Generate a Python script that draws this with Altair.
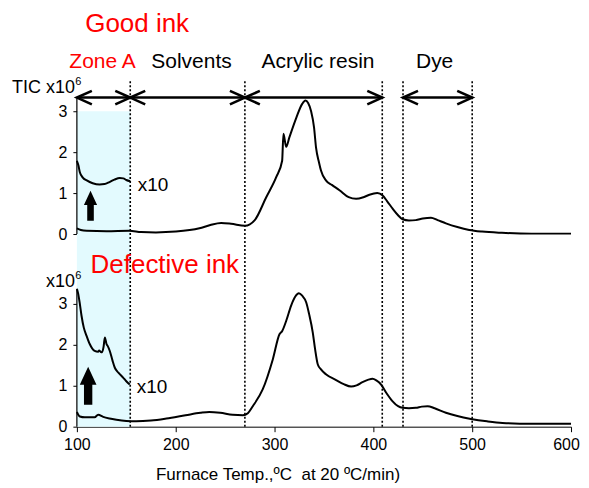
import altair as alt
import pandas as pd

# ---------------- data ----------------
# Good ink (upper panel), TIC x10^6
good_main_x = [100, 104, 110, 130, 153, 165, 180, 200, 224, 235, 246, 256, 270, 280, 291.6, 301.7,
               307.7, 309, 311.8, 315, 322, 328, 331.3, 334, 337, 340, 342, 345, 347, 352, 358,
               365.7, 375, 382.5, 390, 396, 404, 409.4, 414, 419.5, 425, 429.6, 436, 443, 450,
               458.3, 465, 473.4, 485, 497, 510, 530, 560, 600]
good_main_y = [0.14, 0.10, 0.08, 0.07, 0.08, 0.05, 0.04, 0.06, 0.14, 0.22, 0.27, 0.25, 0.20, 0.34, 0.90, 1.39,
               1.79, 2.45, 2.13, 2.36, 2.84, 3.18, 3.26, 3.20, 3.00, 2.60, 2.11, 1.75, 1.55, 1.31, 1.20,
               1.07, 0.90, 0.86, 0.90, 0.96, 1.00, 0.94, 0.80, 0.62, 0.46, 0.36, 0.33, 0.34, 0.38,
               0.40, 0.34, 0.26, 0.17, 0.10, 0.06, 0.03, 0.01, 0.01]
good_x10_x = [100, 101.5, 103, 106, 110, 116, 123, 128, 133, 138, 143.4, 147, 150, 154]
good_x10_y = [1.79, 1.68, 1.51, 1.38, 1.31, 1.24, 1.21, 1.22, 1.27, 1.33, 1.37, 1.36, 1.32, 1.29]

# Defective ink (lower panel)
bad_main_x = [100, 103, 108, 113, 118, 121.5, 126.6, 133, 140, 150, 160, 175, 190.6, 210, 225, 234, 245,
              257.6, 268, 273, 278, 288, 298.3, 305, 307.8, 312, 316.8, 321, 324.6, 328, 332, 335,
              338.7, 341, 343.8, 347, 352, 362.3, 370, 377.5, 383, 389, 395, 399.3, 403, 407.8,
              413, 419.5, 425, 429.6, 436, 443, 449, 454.9, 462, 473.4, 485, 498.7, 515, 530.6,
              560, 600]
bad_main_y = [0.36, 0.25, 0.23, 0.23, 0.23, 0.29, 0.24, 0.20, 0.17, 0.14, 0.13, 0.15, 0.20, 0.28, 0.34, 0.36, 0.34,
              0.29, 0.28, 0.33, 0.50, 0.91, 1.65, 2.26, 2.34, 2.60, 2.96, 3.18, 3.26, 3.20, 3.04, 2.75,
              2.30, 1.90, 1.52, 1.40, 1.28, 1.14, 1.04, 0.98, 1.01, 1.09, 1.15, 1.17, 1.13, 1.03,
              0.83, 0.62, 0.50, 0.46, 0.45, 0.46, 0.49, 0.50, 0.45, 0.34, 0.26, 0.19, 0.13, 0.09,
              0.07, 0.07]
bad_x10_x = [100, 101.3, 103, 104.7, 107, 109.8, 113, 118, 121.5, 122.5, 124, 125.5, 127, 128.3, 130,
             131, 133.3, 136, 138.4, 142, 146.8, 150, 153.5]
bad_x10_y = [3.37, 3.25, 3.00, 2.71, 2.42, 2.22, 2.02, 1.85, 1.83, 1.86, 1.83, 1.82, 1.95, 2.18, 2.02,
             1.98, 1.85, 1.62, 1.44, 1.32, 1.20, 1.11, 1.03]

# zones (temperature ranges)
zone_names = ["Zone A", "Solvents", "Acrylic resin", "Dye"]
zone_start = [100, 154, 270, 430]
zone_end = [154, 270, 409, 500]
zone_label_x = [126, 216, 344, 462]
zone_colors = ["#ff0000", "#000000", "#000000", "#000000"]
boundaries = [154, 270, 409, 430, 500]

y_ticks = [0, 1, 2, 3]
x_ticks = [100, 200, 300, 400, 500, 600]

OFFSET = 4.707          # baseline of the upper panel on the shared y scale
Y_MAX = 10.2195
FONT = "Liberation Sans"

# ---------------- tables ----------------
lines = pd.concat([
    pd.DataFrame({"x": good_main_x, "y": [v + OFFSET for v in good_main_y], "s": "good_main"}),
    pd.DataFrame({"x": good_x10_x, "y": [v + OFFSET for v in good_x10_y], "s": "good_x10"}),
    pd.DataFrame({"x": bad_main_x, "y": bad_main_y, "s": "bad_main"}),
    pd.DataFrame({"x": bad_x10_x, "y": bad_x10_y, "s": "bad_x10"}),
], ignore_index=True)
lines["i"] = range(len(lines))

xs = alt.Scale(domain=[100, 600], nice=False, zero=False)
ys = alt.Scale(domain=[0, Y_MAX], nice=False, zero=False)

y_axis = alt.Axis(values=y_ticks + [v + OFFSET for v in y_ticks],
                  labelExpr=f"datum.value > 4 ? format(datum.value - {OFFSET}, '.0f') : format(datum.value, '.0f')",
                  domain=False, grid=False, tickSize=4, tickColor="black", labelPadding=6,
                  labelFont=FONT, labelFontSize=16, labelColor="black", title=None, labelFlush=False)
x_axis = alt.Axis(values=x_ticks, grid=False, tickSize=5, tickColor="black", domainColor="black",
                  labelPadding=5, labelFont=FONT, labelFontSize=16, labelColor="black", labelFlush=False,
                  labelOffset={"condition": {"test": "datum.value == 600", "value": -5}, "value": 0},
                  title="Furnace Temp.,ºC\u00a0 at 20 ºC/min)", titleFont=FONT, titleFontSize=17,
                  titleFontWeight="normal", titleColor="black", titleX=201, titleY=48,
                  titleBaseline="middle", titleAlign="center", format="d")

shade = alt.Chart(pd.DataFrame({"x": [zone_start[0]], "x2": [zone_end[0]], "y": [0], "y2": [OFFSET + 3.0]})).mark_rect(
    color="#e3fafe").encode(
    x=alt.X("x:Q", scale=xs, axis=x_axis), x2="x2:Q",
    y=alt.Y("y:Q", scale=ys, axis=y_axis), y2="y2:Q")

dotted = alt.Chart(pd.DataFrame({"x": boundaries})).transform_calculate(y0="0", y1="8.49").mark_rule(
    color="black", strokeWidth=1.6, strokeDash=[2, 2]).encode(
    x=alt.X("x:Q", scale=xs), y=alt.Y("y0:Q", scale=ys), y2="y1:Q")

axis_lines = alt.Chart(pd.DataFrame({"x": [100, 100], "y": [0, OFFSET], "y2": [3.34, OFFSET + 3.32]})).mark_rule(
    color="black", strokeWidth=1.2).encode(
    x=alt.X("x:Q", scale=xs), y=alt.Y("y:Q", scale=ys), y2="y2:Q")

curves = alt.Chart(lines).mark_line(color="black", strokeWidth=2, interpolate="monotone").encode(
    x=alt.X("x:Q", scale=xs), y=alt.Y("y:Q", scale=ys), detail="s:N", order="i:Q")

arr = pd.DataFrame({"x": zone_start, "x2": zone_end})
arr["y"] = 8.04
shafts = alt.Chart(arr).mark_rule(color="black", strokeWidth=2.5).encode(
    x=alt.X("x:Q", scale=xs), x2="x2:Q", y=alt.Y("y:Q", scale=ys))
head_l = alt.Chart(arr).mark_point(shape="M2,-0.9L0,0L2,0.9", filled=False, size=225, strokeWidth=2.6,
                                   color="black", opacity=1).encode(
    x=alt.X("x:Q", scale=xs), y=alt.Y("y:Q", scale=ys))
head_r = alt.Chart(arr).mark_point(shape="M-2,-0.9L0,0L-2,0.9", filled=False, size=225, strokeWidth=2.6,
                                   color="black", opacity=1).encode(
    x=alt.X("x2:Q", scale=xs), y=alt.Y("y:Q", scale=ys))

up_path = "M0,-1L0.44,-0.05L0.22,-0.05L0.22,1L-0.22,1L-0.22,-0.05L-0.44,-0.05Z"
ups = alt.Chart(pd.DataFrame({"x": [113.8, 111.4], "y": [OFFSET + 0.69, 1.0], "sz": [900, 1444]})).mark_point(
    shape=up_path, filled=True, color="black", opacity=1, strokeWidth=0).encode(
    x=alt.X("x:Q", scale=xs), y=alt.Y("y:Q", scale=ys), size=alt.Size("sz:Q", scale=None))

zone_txt = alt.Chart(pd.DataFrame({"t": zone_names, "x": zone_label_x, "c": zone_colors, "y": [8.91] * 4})).mark_text(
    font=FONT, fontSize=21, baseline="middle", align="center").encode(
    x=alt.X("x:Q", scale=xs), y=alt.Y("y:Q", scale=ys), text="t:N", color=alt.Color("c:N", scale=None))

titles = alt.Chart(pd.DataFrame({"t": ["Good ink", "Defective ink"], "x": [161, 189], "y": [9.85, 3.95]})).mark_text(
    font=FONT, fontSize=26, baseline="middle", align="center", color="#ff0000").encode(
    x=alt.X("x:Q", scale=xs), y=alt.Y("y:Q", scale=ys), text="t:N")

x10 = alt.Chart(pd.DataFrame({"t": ["x10", "x10"], "x": [161.6, 160.6], "y": [OFFSET + 1.2, 0.97]})).mark_text(
    font=FONT, fontSize=19, baseline="middle", align="left", color="black").encode(
    x=alt.X("x:Q", scale=xs), y=alt.Y("y:Q", scale=ys), text="t:N")

unit = alt.Chart(pd.DataFrame({"t": ["TIC x10", "x10"], "x": [98, 98], "y": [8.27, 3.54]})).mark_text(
    font=FONT, fontSize=18, baseline="middle", align="right", color="black").encode(
    x=alt.X("x:Q", scale=xs), y=alt.Y("y:Q", scale=ys), text="t:N")
unit_sup = alt.Chart(pd.DataFrame({"t": ["6", "6"], "x": [98.3, 98.3], "y": [8.27, 3.54]})).mark_text(
    font=FONT, fontSize=11, baseline="middle", align="left", color="black", dy=-6).encode(
    x=alt.X("x:Q", scale=xs), y=alt.Y("y:Q", scale=ys), text="t:N")

chart = alt.layer(shade, dotted, axis_lines, curves, shafts, head_l, head_r, ups,
                  zone_txt, titles, x10, unit, unit_sup).properties(
    width=495, height=419,
    autosize=alt.AutoSizeParams(type="none"),
    padding={"left": 69, "top": 0, "right": 10, "bottom": 58},
).configure_view(stroke=None)

chart.save("out.html", embed_options={"renderer": "svg", "actions": False})
